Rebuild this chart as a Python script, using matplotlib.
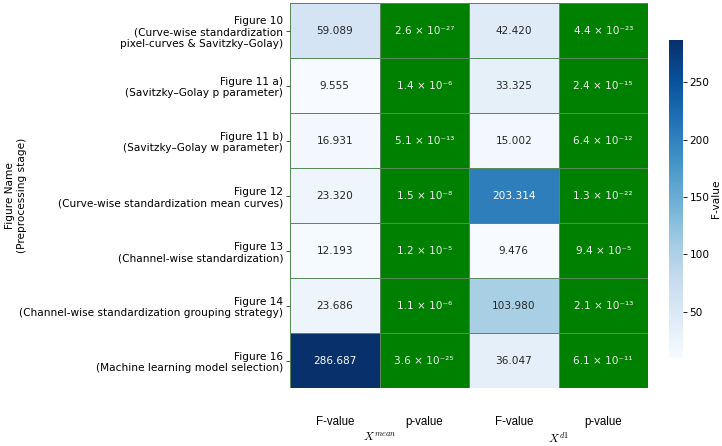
import numpy as np
import matplotlib
matplotlib.use("Agg")
import matplotlib.pyplot as plt
from matplotlib.colors import ListedColormap

rows = ["Figure 10\n(Curve-wise standardization\npixel-curves & Savitzky–Golay)",
        "Figure 11 a)\n(Savitzky–Golay p parameter)",
        "Figure 11 b)\n(Savitzky–Golay w parameter)",
        "Figure 12\n(Curve-wise standardization mean curves)",
        "Figure 13\n(Channel-wise standardization)",
        "Figure 14\n(Channel-wise standardization grouping strategy)",
        "Figure 16\n(Machine learning model selection)"]
col_labels = ["F-value", "p-value", "F-value", "p-value"]
group_labels = [r"$X^{mean}$", r"$X^{d1}$"]

F_mean = [59.089, 9.555, 16.931, 23.320, 12.193, 23.686, 286.687]
p_mean = ["2.6 × 10⁻²⁷", "1.4 × 10⁻⁶", "5.1 × 10⁻¹³", "1.5 × 10⁻⁸", "1.2 × 10⁻⁵", "1.1 × 10⁻⁶", "3.6 × 10⁻²⁵"]
F_d1 = [42.420, 33.325, 15.002, 203.314, 9.476, 103.980, 36.047]
p_d1 = ["4.4 × 10⁻²³", "2.4 × 10⁻¹⁵", "6.4 × 10⁻¹²", "1.3 × 10⁻²²", "9.4 × 10⁻⁵", "2.1 × 10⁻¹³", "6.1 × 10⁻¹¹"]

plt.rcParams["mathtext.fontset"] = "cm"
FS = 7.6

nrow = len(rows)
F = np.full((nrow, 4), np.nan)
F[:, 0] = F_mean
F[:, 2] = F_d1
vmin, vmax = np.nanmin(F), np.nanmax(F)

fig = plt.figure(figsize=(7.22, 4.46), dpi=100)
ax = fig.add_axes([0.4017, 0.130, 0.4958, 0.863])
cax = fig.add_axes([0.926, 0.197, 0.0194, 0.713])

cmap = plt.get_cmap("Blues")
mesh = ax.pcolormesh(np.arange(5), np.arange(nrow + 1), np.ma.masked_invalid(F), cmap=cmap,
                     vmin=vmin, vmax=vmax, edgecolor="#a8a8b0", linewidth=0.7)
G = np.full((nrow, 4), np.nan)
G[:, 1] = 1
G[:, 3] = 1
ax.pcolormesh(np.arange(5), np.arange(nrow + 1), np.ma.masked_invalid(G),
              cmap=ListedColormap(["#008000"]), edgecolor="#5a8a5a", linewidth=0.7)
ax.set_xlim(0, 4)
ax.set_ylim(nrow, 0)

for i in range(nrow):
    for j, (vals, isF) in enumerate([(F_mean, True), (p_mean, False), (F_d1, True), (p_d1, False)]):
        if isF:
            v = vals[i]
            norm = (v - vmin) / (vmax - vmin)
            color = "white" if norm > 0.6 else "#262626"
            ax.text(j + 0.5, i + 0.5, f"{v:.3f}", ha="center", va="center", fontsize=FS, color=color)
        else:
            ax.text(j + 0.5, i + 0.5, vals[i], ha="center", va="center", fontsize=FS, color="#ececec")

ax.set_yticks(np.arange(nrow) + 0.5)
ax.set_yticklabels(rows, fontsize=FS, ha="right")
ax.tick_params(axis="y", length=3, width=0.6, color="#333333", pad=2)
ax.set_xticks(np.arange(4) + 0.5)
ax.set_xticklabels(col_labels, fontsize=8.3, family="Liberation Sans")
ax.tick_params(axis="x", length=0, pad=20)
for s in ax.spines.values():
    s.set_visible(False)
ax.set_ylabel("Figure Name\n(Preprocessing stage)", fontsize=FS)
ax.yaxis.set_label_coords(-0.735, 0.5)

for k, g in enumerate(group_labels):
    ax.text(2 * k + 1, -0.13, g, transform=ax.get_xaxis_transform(), ha="center", va="center",
            fontsize=8.5)

cb = fig.colorbar(mesh, cax=cax)
cb.outline.set_visible(False)
cb.set_ticks([50, 100, 150, 200, 250])
cb.ax.tick_params(labelsize=FS, length=3, width=0.6, pad=2)
cb.set_label("F-value", fontsize=FS, labelpad=1)

fig.savefig("out.png", dpi=100)
